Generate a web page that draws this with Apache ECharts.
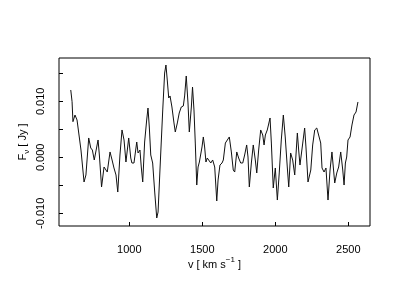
<!DOCTYPE html>
<html>
<head>
<meta charset="utf-8">
<script src="https://cdn.jsdelivr.net/npm/echarts@6/dist/echarts.min.js"></script>
<style>
html,body{margin:0;padding:0;background:#fff;}
#c{width:400px;height:300px;}
</style>
</head>
<body>
<div id="c"></div>
<script>
const velocity = [599,608,614,628,642,653,669,690,703,722,736,747,760,772,786,795,810,827,840,849,868,882,895,909,921,936,950,964,977,996,1010,1018,1032,1051,1060,1073,1082,1092,1105,1119,1128,1137,1147,1160,1174,1188,1197,1210,1229,1242,1251,1260,1270,1279,1292,1306,1315,1329,1342,1356,1370,1379,1390,1402,1411,1425,1433,1443,1452,1462,1471,1480,1491,1498,1507,1516,1525,1534,1544,1558,1571,1585,1599,1608,1621,1635,1644,1658,1671,1685,1699,1712,1722,1736,1749,1763,1777,1790,1804,1813,1822,1836,1849,1863,1873,1886,1900,1914,1923,1932,1945,1953,1964,1973,1986,2000,2014,2027,2041,2055,2068,2082,2092,2105,2119,2133,2151,2160,2169,2188,2201,2210,2224,2243,2256,2270,2284,2297,2311,2320,2334,2347,2361,2375,2388,2407,2421,2434,2448,2462,2471,2480,2489,2498,2512,2525,2539,2553,2566];
const flux = [0.01202,0.00993,0.00636,0.00755,0.00666,0.00648,0.00130,-0.00441,-0.00316,0.00345,0.00166,0.00130,-0.00048,-0.00013,0.00309,0.00041,-0.00530,-0.00173,-0.00173,-0.00263,0.00095,-0.00048,-0.00191,-0.00316,-0.00620,0.00041,0.00488,0.00309,-0.00084,0.00345,-0.00013,-0.00102,-0.00102,0.00273,0.00077,0.00130,-0.00173,-0.00441,0.00273,0.00666,0.00880,0.00541,0.00041,-0.00102,-0.00620,-0.01084,-0.00977,-0.00227,0.00845,0.01505,0.01648,0.01380,0.01059,0.01095,0.00898,0.00613,0.00452,0.00613,0.00791,0.00898,0.00916,0.01095,0.01452,0.00970,0.00452,0.00898,0.01255,0.00845,0.00255,-0.00495,-0.00173,-0.00084,-0.00084,0.00184,0.00363,0.00184,-0.00084,-0.00013,-0.00048,-0.00102,-0.00048,-0.00173,-0.00780,-0.00405,-0.00138,-0.00102,-0.00048,0.00255,0.00220,0.00363,0.00095,-0.00227,-0.00263,0.00095,-0.00013,-0.00102,-0.00102,0.00041,0.00220,0.00005,-0.00530,-0.00102,0.00220,-0.00048,-0.00280,0.00130,0.00488,0.00398,0.00220,0.00398,0.00488,0.00577,0.00702,0.00255,-0.00548,-0.00191,-0.00763,-0.00280,0.00309,0.00755,0.00363,-0.00173,-0.00530,0.00077,-0.00048,-0.00316,0.00434,0.00130,-0.00138,0.00255,0.00523,0.00184,-0.00441,-0.00227,0.00220,0.00488,0.00523,0.00488,0.00255,-0.00191,-0.00263,-0.00191,-0.00763,-0.00227,0.00095,-0.00459,-0.00280,-0.00173,0.00095,-0.00227,-0.00495,-0.00102,0.00005,0.00309,0.00363,0.00577,0.00755,0.00809,0.00988];
const xTicks = [1000,1500,2000,2500];
const yTicks = [-0.010,-0.005,0.000,0.005,0.010,0.015];
const yLabels = [-0.010,0.000,0.010];

const FONT = 'Liberation Sans, Arial, sans-serif';
const chart = echarts.init(document.getElementById('c'), null, {renderer:'canvas'});
chart.setOption({
  animation:false,
  backgroundColor:'#fff',
  grid:{left:59,right:30,top:58,bottom:74,show:true,borderColor:'#000',borderWidth:1,backgroundColor:'transparent',containLabel:false},
  xAxis:{
    type:'value', min:518.5, max:2648.6,
    axisLine:{show:false,onZero:false},
    splitLine:{show:false},
    axisTick:{show:true,inside:true,length:4,lineStyle:{color:'#000'},customValues:xTicks},
    axisLabel:{show:true,margin:18,fontFamily:FONT,fontSize:11,color:'#000',customValues:xTicks,formatter:v=>String(v)},
    name:'{a|v [ km s}{s|−1}{a| ]}',
    nameLocation:'middle', nameGap:30, nameMoveOverlap:false,
    nameTextStyle:{fontFamily:FONT,fontSize:11,color:'#000',rich:{
      a:{fontFamily:FONT,fontSize:11,color:'#000',lineHeight:14,verticalAlign:'bottom'},
      s:{fontFamily:FONT,fontSize:8,color:'#000',lineHeight:14,verticalAlign:'top'}
    }}
  },
  yAxis:{
    type:'value', min:-0.012268, max:0.017732,
    axisLine:{show:false,onZero:false},
    splitLine:{show:false},
    axisTick:{show:true,inside:true,length:4,lineStyle:{color:'#000'},customValues:yTicks},
    axisLabel:{show:true,rotate:90,margin:13,fontFamily:FONT,fontSize:11,color:'#000',customValues:yLabels,formatter:v=>v.toFixed(3)},
    name:'{a|F}{s|ν}{a| [ Jy ]}',
    nameLocation:'middle', nameRotate:90, nameGap:28, nameMoveOverlap:false,
    nameTextStyle:{fontFamily:FONT,fontSize:11,color:'#000',rich:{
      a:{fontFamily:FONT,fontSize:11,color:'#000',lineHeight:14,verticalAlign:'top'},
      s:{fontFamily:FONT,fontSize:8,color:'#000',lineHeight:14,verticalAlign:'bottom'}
    }}
  },
  series:[{
    type:'line',
    data:velocity.map((v,i)=>[v,flux[i]]),
    showSymbol:false,
    smooth:false,
    lineStyle:{color:'#111',width:1},
    silent:true
  }]
});
</script>
</body>
</html>
